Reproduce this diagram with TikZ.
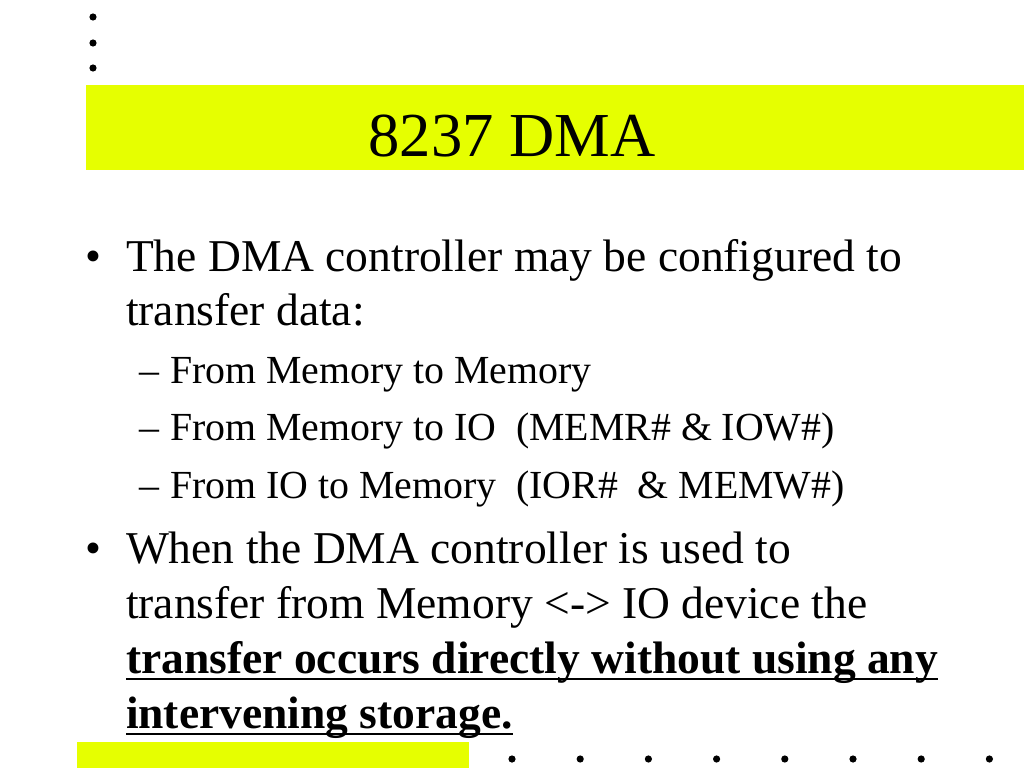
\documentclass[tikz,border=0pt]{standalone}
\usepackage{fontspec}
\setmainfont{Liberation Serif}
\usetikzlibrary{calc}
\definecolor{hiyellow}{RGB}{230,255,0}
\begin{document}
\begin{tikzpicture}[x=0.009765625in,y=-0.009765625in,
  txt/.style={inner sep=0pt,outer sep=0pt,anchor=base west},
  mainfont/.style={font=\fontsize{32bp}{38bp}\selectfont},
  subfont/.style={font=\fontsize{28bp}{34bp}\selectfont},
  boldfont/.style={font=\fontsize{32bp}{38bp}\selectfont\bfseries},
  glyph/.style={inner sep=0pt,outer sep=0pt,anchor=base},
  uline/.style={draw=black, line width=2.1pt},
  dotmark/.style={fill=black,draw=none},
  bar/.style={fill=hiyellow,draw=none}]
\useasboundingbox (0,0) rectangle (1024,768);
\fill[white] (0,0) rectangle (1024,768);
% bars
\path[bar] (86,85) rectangle (1024,170);
\path[bar] (77,742) rectangle (469,768);
% dots
\foreach \yy in {17,43,68} \path[dotmark] (93,\yy) circle (3.6);
\foreach \k in {0,...,7} \path[dotmark] ({512+68.2*\k},759) circle (3.6);
% title
\node[glyph,font=\fontsize{44bp}{52bp}\selectfont] (title) at (512,156) {8237 DMA};
% bullet 1
\node[glyph,mainfont] (b1) at (93,271) {•};
\node[txt,mainfont] (l1a) at (126,271) {The DMA controller may be configured to};
\node[txt,mainfont] (l1b) at (126,325) {transfer data:};
\node[glyph,subfont] (d1) at (149,383) {–};
\node[txt,subfont] (s1) at (170,383) {From Memory to Memory};
\node[glyph,subfont] (d2) at (149,440) {–};
\node[txt,subfont] (s2) at (170,440) {From Memory to IO\ \ (MEMR\# \& IOW\#)};
\node[glyph,subfont] (d3) at (149,498) {–};
\node[txt,subfont] (s3) at (170,498) {From IO to Memory\ \ (IOR\#\ \ \& MEMW\#)};
% bullet 2
\node[glyph,mainfont] (b2) at (93,563) {•};
\node[txt,mainfont] (l2a) at (126,563) {When the DMA controller is used to};
\node[txt,mainfont] (l2b) at (126,618) {transfer from Memory <-> IO device the};
\node[txt,boldfont] (l2c) at (126,673) {transfer occurs directly without using any};
\node[txt,boldfont] (l2d) at (126,728) {intervening storage.};
\draw[uline] ($(l2c.base west)+(0,6)$) -- ($(l2c.base east)+(0,6)$);
\draw[uline] ($(l2d.base west)+(0,6)$) -- ($(l2d.base east)+(0,6)$);
\end{tikzpicture}
\end{document}
